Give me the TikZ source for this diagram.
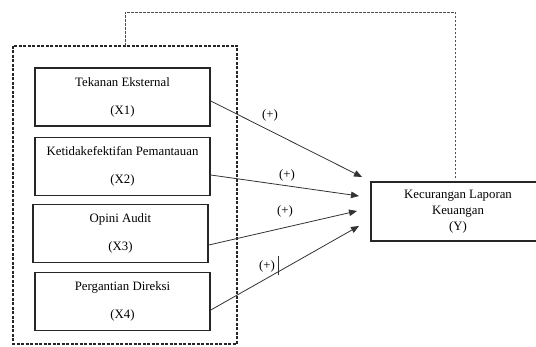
\documentclass[tikz,border=0pt]{standalone}
\usepackage{fontspec}
\setmainfont{Liberation Serif}
\usetikzlibrary{arrows.meta,calc}
\begin{document}
\begin{tikzpicture}[x=1pt,y=-1pt,
  varbox/.style={draw=black!85,line width=1.6pt,minimum width=175pt,minimum height=58pt,inner sep=0pt,align=center,font=\fontsize{12.8}{28}\selectfont},
  ybox/.style={draw=black!85,line width=1.6pt,minimum width=174pt,minimum height=59pt,inner sep=0pt,align=center,font=\fontsize{12.8}{16}\selectfont},
  grp/.style={draw=black!85,dashed,line width=1.1pt,dash pattern=on 3pt off 1.5pt},
  fb/.style={draw=black!70,line width=0.7pt,dash pattern=on 2.5pt off 1.5pt},
  link/.style={draw=black!80,line width=0.8pt,-{Triangle[length=8pt,width=6.5pt]}},
  sign/.style={font=\fontsize{12.8}{14}\selectfont,inner sep=0pt}]
\useasboundingbox (0,0) rectangle (536,347);
\fill[white] (0,0) rectangle (536,347);
% group box
\draw[grp] (13,46) rectangle (237,344);
% variable boxes
\node[varbox] (x1) at (122.5,97) {Tekanan Eksternal\\(X1)};
\node[varbox] (x2) at (122.5,166.5) {Ketidakefektifan Pemantauan\\(X2)};
\node[varbox] (x3) at (120.5,233.5) {Opini Audit\\(X3)};
\node[varbox] (x4) at (122.5,301.5) {Pergantian Direksi\\(X4)};
\node[ybox] (y) at (458,211.5) {Kecurangan Laporan\\Keuangan\\(Y)};
% arrow ends
\coordinate (a1) at (362,177);
\coordinate (a2) at (359,196);
\coordinate (a3) at (357,211);
\coordinate (a4) at (359,226);
\draw[link] ($(x1.east)+(0,4)$) -- (a1);
\draw[link] ($(x2.east)+(0,8.5)$) -- (a2);
\draw[link] ($(x3.east)+(0,11.5)$) -- (a3);
\draw[link] ($(x4.east)+(0,8.5)$) -- (a4);
% signs
\node[sign] (s1) at (270,115) {(+)};
\node[sign] (s2) at (287,175) {(+)};
\node[sign] (s3) at (285,211) {(+)};
\node[sign] (s4) at (267,266) {(+)};
\draw[black!80,line width=0.6pt] (278,256) -- (278,275);
% feedback dashed connector
\coordinate (g) at (125,46);
\draw[fb] (g) -- (125,12) -- (455,12) -- (455,180);
\end{tikzpicture}
\end{document}
